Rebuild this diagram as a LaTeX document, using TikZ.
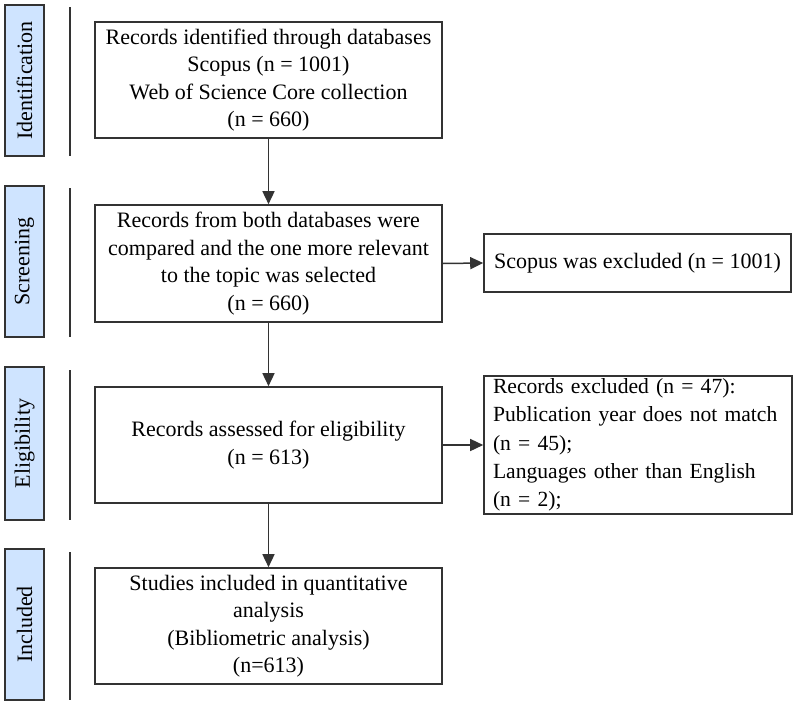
\documentclass[tikz,border=0pt]{standalone}
\usepackage{fontspec}
\setmainfont{Liberation Serif}
\usetikzlibrary{arrows.meta}
\definecolor{edge}{RGB}{51,51,51}
\definecolor{sidefill}{RGB}{207,228,255}
\begin{document}
\begin{tikzpicture}[x=1pt,y=-1pt,
  every node/.style={font=\fontsize{22}{27.5}\selectfont, text=black},
  mainbox/.style={draw=edge, line width=1.6pt, minimum width=347pt, minimum height=116pt, align=center, inner sep=0pt},
  sidebox/.style={draw=edge, fill=sidefill, line width=1.6pt, rotate=90, inner sep=0pt},
  exclbox/.style={draw=edge, line width=1.6pt, inner sep=0pt},
  sep/.style={draw=edge, line width=1.4pt},
  flow/.style={draw=edge, line width=1.5pt, -{Triangle[length=13pt,width=12pt]}}
]
\useasboundingbox (0,0) rectangle (798,707);
% phase labels
\node[sidebox, minimum width=151pt, minimum height=39pt] (sid) at (24.5,80.5) {Identification};
\node[sidebox, minimum width=151pt, minimum height=39pt] (sscr) at (24.5,261.5) {Screening};
\node[sidebox, minimum width=153pt, minimum height=39pt] (sel) at (24.5,443.5) {Eligibility};
\node[sidebox, minimum width=151pt, minimum height=39pt] (sinc) at (24.5,624.5) {Included};
% separators
\draw[sep] (70,7) -- (70,156);
\draw[sep] (70,188) -- (70,337);
\draw[sep] (70,370) -- (70,520);
\draw[sep] (70,552) -- (70,700);
% main boxes
\node[mainbox] (b1) at (268.5,80) {Records identified through databases\\Scopus (n = 1001)\\Web of Science Core collection\\(n = 660)};
\node[mainbox, minimum height=117pt] (b2) at (268.5,263.5) {Records from both databases were\\compared and the one more relevant\\to the topic was selected\\(n = 660)};
\node[mainbox] (b3) at (268.5,445) {Records assessed for eligibility\\(n = 613)};
\node[mainbox] (b4) at (268.5,626) {Studies included in quantitative\\analysis\\(Bibliometric analysis)\\(n=613)};
% exclusion boxes
\node[exclbox, minimum width=307pt, minimum height=58pt] (e1) at (637.5,263) {Scopus was excluded (n = 1001)};
\node[exclbox, minimum width=308pt, minimum height=138pt, align=left, text width=290pt, font=\fontsize{21.6}{28.2}\selectfont] (e2) at (638,445) {Records excluded (n = 47):\\Publication year does not match\\(n = 45);\\Languages other than English\\(n = 2);};
% arrows
\draw[flow] (b1) -- (b2);
\draw[flow] (b2) -- (b3);
\draw[flow] (b3) -- (b4);
\draw[flow] (b2.east) -- (e1.west);
\draw[flow] (b3.east) -- (e2.west);
\end{tikzpicture}
\end{document}
